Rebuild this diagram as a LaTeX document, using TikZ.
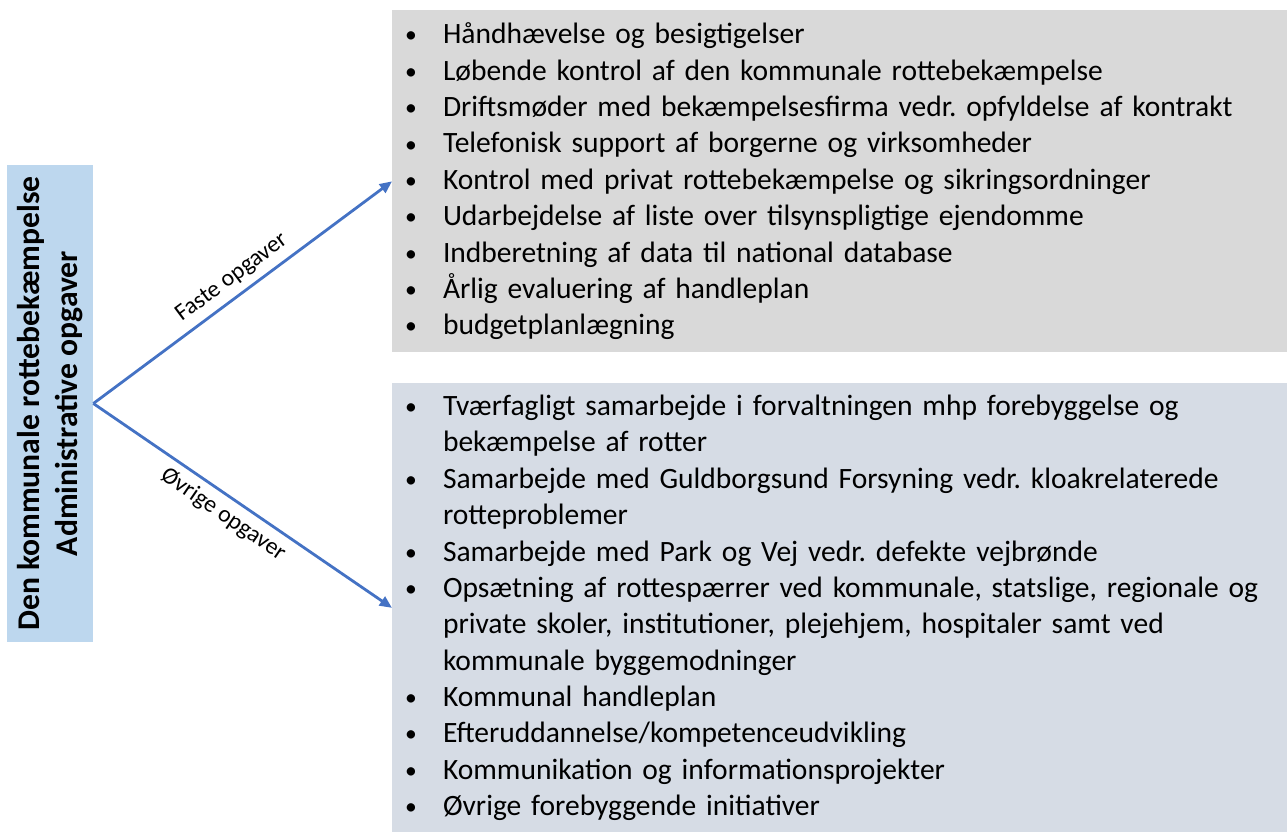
\documentclass[tikz,border=0pt]{standalone}
\usepackage{fontspec}
\setmainfont{Carlito}
\frenchspacing
\usetikzlibrary{
    arrows.meta                       % pilespidser (Triangle, Stealth)
}
\definecolor{hovedblaa}{RGB}{189,215,238}
\definecolor{fastegraa}{RGB}{217,217,217}
\definecolor{oevriggraa}{RGB}{214,220,229}
\definecolor{pilblaa}{RGB}{68,114,196}
\tikzset{
    hoved/.style={
        rectangle, fill=hovedblaa, rotate=90,
        minimum width=477*0.02cm, minimum height=86*0.02cm,
        align=center, inner sep=0pt,
        font=\fontsize{18}{21.5}\selectfont\bfseries
    },
    liste/.style={
        rectangle, anchor=north west,
        minimum width=895*0.02cm,
        text width=895*0.02cm-24*0.02cm, align=left,
        inner xsep=12*0.02cm, inner ysep=0pt,
        font=\fontsize{16.8}{20.7}\selectfont
    },
    pil/.style={
        -{Triangle[length=7pt,width=6pt]}, draw=pilblaa, line width=1.6pt
    },
    etiket/.style={
        font=\fontsize{13.5}{15}\selectfont, sloped, inner sep=4pt
    }
}
\newcommand{\pkt}{\makebox[22pt][l]{\hspace{0.5pt}\raisebox{0.5pt}{\scalebox{0.8}{\textbullet}}}}
\newcommand{\fortsat}{\hspace*{22pt}}

\begin{document}
\begin{tikzpicture}[x=0.02cm, y=-0.02cm]

        \useasboundingbox (0,0) rectangle (1287,832);

        % Bokse bag listerne
        \fill[fastegraa] (392,10) rectangle (1287,352);
        \fill[oevriggraa] (392,383) rectangle (1287,832);

        % Venstre boks
        \node[hoved] (adm) at (50,403.5)
            {Den kommunale rottebekæmpelse\\Administrative opgaver};

        % Faste opgaver
        \node[liste, minimum height=342*0.02cm] (faste) at (392,10) {%
            \pkt Håndhævelse og besigtigelser\\
            \pkt Løbende kontrol af den kommunale rottebekæmpelse\\
            \pkt Driftsmøder med bekæmpelsesfirma vedr. opfyldelse af kontrakt\\
            \pkt Telefonisk support af borgerne og virksomheder\\
            \pkt Kontrol med privat rottebekæmpelse og sikringsordninger\\
            \pkt Udarbejdelse af liste over tilsynspligtige ejendomme\\
            \pkt Indberetning af data til national database\\
            \pkt Årlig evaluering af handleplan\\
            \pkt budgetplanlægning};

        % Øvrige opgaver
        \node[liste, minimum height=449*0.02cm] (oevrige) at (392,383) {%
            \pkt Tværfagligt samarbejde i forvaltningen mhp forebyggelse og\\
            \fortsat bekæmpelse af rotter\\
            \pkt Samarbejde med Guldborgsund Forsyning vedr. kloakrelaterede\\
            \fortsat rotteproblemer\\
            \pkt Samarbejde med Park og Vej vedr. defekte vejbrønde\\
            \pkt Opsætning af rottespærrer ved kommunale, statslige, regionale og\\
            \fortsat private skoler, institutioner, plejehjem, hospitaler samt ved\\
            \fortsat kommunale byggemodninger\\
            \pkt Kommunal handleplan\\
            \pkt Efteruddannelse/kompetenceudvikling\\
            \pkt Kommunikation og informationsprojekter\\
            \pkt Øvrige forebyggende initiativer};

        % Pile
        \draw[pil] (adm.south) -- (faste.west)
            node[etiket, midway, above] {Faste opgaver};
        \draw[pil] (adm.south) -- (oevrige.west)
            node[etiket, pos=0.47, below] {Øvrige opgaver};

    \end{tikzpicture}
\end{document}
